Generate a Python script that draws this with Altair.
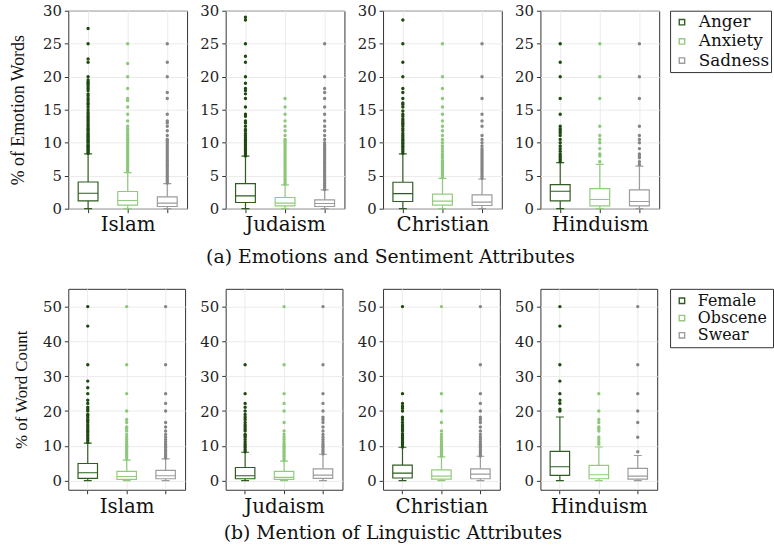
import altair as alt
import pandas as pd

religions = ["Islam", "Judaism", "Christian", "Hinduism"]

# ---------------- (a) emotion words ----------------
emotion_series = ["Anger", "Anxiety", "Sadness"]
# (whisker low, Q1, median, Q3, whisker high) for Islam, Judaism, Christian, Hinduism
anger_box = [(0, 1.18, 2.34, 4.04, 8.30), (0, 0.93, 1.93, 3.80, 7.96),
             (0, 1.09, 2.29, 4.00, 8.30), (0, 1.18, 2.64, 3.65, 6.97)]
anxiety_box = [(0, 0.53, 1.24, 2.60, 5.46), (0, 0.42, 0.83, 1.69, 3.60),
               (0, 0.53, 1.13, 2.19, 4.60), (0, 0.42, 1.39, 3.05, 6.70)]
sadness_box = [(0, 0.33, 0.83, 1.78, 3.80), (0, 0.33, 0.78, 1.33, 2.84),
               (0, 0.48, 0.98, 2.08, 4.50), (0, 0.42, 1.09, 2.84, 6.46)]

anger_out = [
    [8.4, 8.6, 8.8, 9.0, 9.2, 9.4, 9.5, 9.7, 10.0, 10.2, 10.3, 10.5, 10.7, 10.9, 11.1, 11.3,
     11.5, 11.8, 12.0, 12.2, 12.5, 12.7, 13.0, 13.3, 13.5, 13.8, 14.0, 14.3, 14.6, 15.0, 15.4,
     15.8, 16.0, 16.4, 16.7, 17.1, 17.4, 17.9, 18.2, 18.5, 18.8, 19.0, 19.2, 19.5, 20.0, 22.2,
     22.7, 25.0, 27.3],
    [8.0, 8.3, 8.6, 8.9, 9.1, 9.4, 9.7, 10.0, 10.3, 10.5, 10.8, 11.1, 11.4, 11.8, 12.0, 12.5,
     13.0, 13.3, 14.0, 14.3, 15.4, 16.7, 17.4, 17.9, 18.2, 19.0, 20.0, 22.2, 23.1, 25.0, 28.6, 29.0],
    [8.4, 8.7, 9.0, 9.3, 9.5, 9.8, 10.0, 10.3, 10.5, 10.8, 11.1, 11.4, 11.8, 12.1, 12.5, 12.8,
     13.0, 13.3, 13.6, 14.0, 14.3, 14.8, 15.4, 15.8, 16.0, 16.7, 17.6, 18.2, 20.0, 22.2, 25.0, 28.6],
    [7.1, 7.4, 7.7, 8.0, 8.3, 8.7, 9.1, 9.5, 10.0, 10.5, 11.1, 11.5, 11.8, 12.1, 12.5, 14.3,
     16.7, 20.0, 22.2, 25.0],
]
anxiety_out = [
    [5.6, 5.9, 6.2, 6.5, 6.7, 7.0, 7.3, 7.5, 7.7, 8.0, 8.3, 8.6, 8.9, 9.1, 9.4, 9.7, 10.0,
     10.3, 10.5, 10.8, 11.1, 11.4, 11.8, 12.1, 12.5, 13.3, 14.3, 15.4, 16.4, 16.7, 18.2, 20.0,
     22.0, 25.0],
    [3.7, 4.0, 4.3, 4.6, 4.9, 5.2, 5.5, 5.8, 6.1, 6.4, 6.7, 7.0, 7.3, 7.6, 7.9, 8.2, 8.5, 8.8,
     9.1, 9.4, 9.7, 10.0, 10.3, 10.5, 11.1, 11.8, 12.5, 13.3, 14.3, 15.4, 16.7],
    [4.7, 5.0, 5.3, 5.6, 5.9, 6.2, 6.5, 6.7, 7.0, 7.3, 7.7, 8.0, 8.3, 8.7, 9.1, 9.5, 10.0,
     10.5, 11.1, 11.8, 12.5, 13.3, 14.3, 15.4, 16.7, 18.2, 20.0, 25.0],
    [7.1, 8.0, 8.3, 9.1, 10.0, 10.5, 11.1, 12.5, 16.7, 20.0, 25.0],
]
sadness_out = [
    [3.9, 4.2, 4.5, 4.8, 5.0, 5.3, 5.6, 5.9, 6.2, 6.5, 6.7, 7.0, 7.3, 7.6, 7.9, 8.2, 8.5, 8.8,
     9.1, 9.4, 9.7, 10.0, 10.3, 10.5, 11.1, 11.8, 12.5, 13.0, 13.3, 14.3, 16.7, 17.6, 20.0,
     22.2, 25.0],
    [2.9, 3.2, 3.5, 3.8, 4.1, 4.4, 4.7, 5.0, 5.3, 5.6, 5.9, 6.2, 6.5, 6.8, 7.1, 7.4, 7.7, 8.0,
     8.3, 8.6, 8.9, 9.1, 9.4, 9.7, 10.0, 10.5, 11.1, 11.8, 12.5, 13.3, 14.3, 15.4, 16.7, 17.6,
     18.2, 20.0, 25.0],
    [4.6, 4.9, 5.2, 5.5, 5.8, 6.1, 6.4, 6.7, 7.0, 7.3, 7.6, 7.9, 8.2, 8.5, 8.8, 9.1, 9.5, 10.0,
     10.5, 11.1, 12.5, 13.3, 14.3, 16.7, 20.0, 25.0],
    [6.7, 7.1, 7.7, 8.0, 8.3, 9.1, 10.0, 10.5, 11.1, 12.5, 16.7, 20.0, 25.0],
]

# ---------------- (b) linguistic attributes ----------------
lingu_series = ["Female", "Obscene", "Swear"]
female_box = [(0, 0.68, 2.28, 4.95, 10.8), (0, 0.57, 1.42, 3.80, 8.17),
              (0, 0.77, 2.19, 4.47, 9.60), (0, 1.54, 4.00, 8.45, 18.3)]
obscene_box = [(0, 0.40, 1.20, 2.67, 5.90), (0, 0.40, 0.97, 2.67, 5.60),
               (0, 0.48, 1.34, 3.13, 6.84), (0, 0.57, 1.71, 4.38, 9.68)]
swear_box = [(0, 0.57, 1.42, 2.95, 6.27), (0, 0.68, 1.62, 3.42, 7.60),
             (0, 0.57, 1.91, 3.42, 7.03), (0, 0.48, 1.34, 3.53, 7.23)]

female_out = [
    [11.0, 11.6, 12.2, 12.8, 13.3, 13.9, 14.3, 14.8, 15.4, 16.0, 16.7, 17.2, 17.6, 18.2, 18.8,
     19.0, 20.0, 20.5, 21.1, 22.2, 23.1, 25.0, 26.7, 28.6, 33.3, 44.4, 50.0],
    [8.3, 8.9, 9.5, 10.0, 10.5, 11.1, 11.8, 12.5, 13.0, 13.3, 14.3, 14.8, 15.4, 16.0, 16.7,
     17.6, 18.2, 19.0, 20.0, 21.1, 22.2, 25.0, 33.3],
    [9.7, 10.3, 10.9, 11.4, 12.0, 12.5, 13.0, 13.5, 14.3, 14.8, 15.4, 16.0, 16.7, 17.6, 18.2,
     20.0, 20.8, 21.4, 22.2, 25.0, 50.0],
    [20.0, 20.5, 22.2, 23.1, 25.0, 28.6, 33.3, 44.4, 50.0],
]
obscene_out = [
    [6.2, 6.9, 7.5, 8.0, 8.6, 9.1, 9.7, 10.0, 10.5, 11.1, 11.8, 12.5, 13.3, 14.3, 15.0, 15.4,
     16.7, 17.6, 20.0, 25.0, 33.3, 50.0],
    [5.8, 6.3, 6.9, 7.4, 8.0, 8.5, 9.1, 9.5, 10.0, 10.5, 11.1, 11.8, 12.5, 13.3, 14.3, 16.7,
     20.0, 22.2, 25.0, 33.3, 50.0],
    [7.1, 7.7, 8.3, 8.7, 9.1, 9.5, 10.0, 10.5, 11.1, 11.8, 12.5, 13.3, 14.3, 16.7, 20.0, 25.0, 50.0],
    [10.5, 11.1, 11.8, 12.5, 14.3, 15.0, 15.4, 16.7, 17.6, 20.0, 25.0],
]
swear_out = [
    [6.5, 7.1, 7.7, 8.3, 8.9, 9.5, 10.0, 10.5, 11.1, 11.8, 12.5, 13.3, 14.3, 15.4, 16.7, 20.0,
     22.2, 25.0, 33.3, 50.0],
    [7.7, 8.3, 8.9, 9.5, 10.0, 10.5, 11.1, 11.8, 12.5, 13.3, 14.3, 15.4, 16.7, 17.6, 18.2, 20.0,
     22.2, 25.0, 33.3, 50.0],
    [7.1, 7.7, 8.3, 8.9, 9.5, 10.0, 10.5, 11.1, 11.8, 12.5, 13.3, 14.3, 15.4, 16.7, 17.6, 18.2,
     20.0, 22.2, 25.0, 33.3, 50.0],
    [8.3, 12.5, 16.7, 20.0, 25.0, 33.3, 50.0],
]

box_strokes = ["#2f5d20", "#92cb7e", "#9c9c9c"]
point_fills = ["#1e4a10", "#8cc878", "#858585"]

SERIF = "DejaVu Serif"
TIMES = "Liberation Serif"


def frames(series, boxes, outliers):
    box_rows, pt_rows = [], []
    for s, stats, outs in zip(series, boxes, outliers):
        for rel, (lo, q1, med, q3, hi), pts in zip(religions, stats, outs):
            box_rows.append(dict(religion=rel, series=s, lo=lo, q1=q1, med=med, q3=q3, hi=hi))
            pt_rows.extend(dict(religion=rel, series=s, kind=s, value=v) for v in pts)
    return pd.DataFrame(box_rows), pd.DataFrame(pt_rows)


def stroke_enc(series):
    return alt.Stroke("series:N", scale=alt.Scale(domain=series, range=box_strokes), legend=None)


def panel(rel, series, box_df, pt_df, y_dom, y_ticks, w, h, y_title, y_title_pad, y_title_size):
    x = alt.X("series:N", scale=alt.Scale(domain=series, paddingInner=0.5, paddingOuter=0.25),
              axis=alt.Axis(title=rel, labels=False, ticks=True, tickSize=4, domain=False,
                            grid=True, bandPosition=0.5, titlePadding=2, titleFont=SERIF,
                            titleFontSize=20, titleFontWeight="normal", titleColor="#111"))
    ysc = alt.Scale(domain=y_dom, nice=False, zero=False)
    yax = alt.Axis(values=y_ticks, tickSize=4, domain=False, grid=True, labelPadding=3,
                   labelOverlap=False, minExtent=28, maxExtent=28,
                   title=y_title, titlePadding=y_title_pad, titleFont=TIMES,
                   titleFontSize=y_title_size, titleFontWeight="normal", titleColor="#111")

    def Y(field):
        return alt.Y(field, type="quantitative", scale=ysc, axis=yax)

    stroke = stroke_enc(series)
    fill = alt.Fill("kind:N", scale=alt.Scale(domain=series, range=point_fills), legend=None)

    b = alt.Chart(box_df[box_df.religion == rel])
    p = alt.Chart(pt_df[pt_df.religion == rel])
    line = dict(filled=False, strokeWidth=1.2)
    whisk_lo = b.mark_rule(strokeWidth=1.2).encode(x=x, y=Y("lo"), y2="q1:Q", stroke=stroke)
    whisk_hi = b.mark_rule(strokeWidth=1.2).encode(x=x, y=Y("q3"), y2="hi:Q", stroke=stroke)
    body_fill = b.mark_bar(fill="white").encode(x=x, y=Y("q1"), y2="q3:Q")
    body = b.mark_bar(**line).encode(x=x, y=Y("q1"), y2="q3:Q", stroke=stroke)
    median = b.mark_bar(**line).encode(x=x, y=Y("med"), y2="med:Q", stroke=stroke)
    cap_hi = b.mark_bar(size=8, **line).encode(x=x, y=Y("hi"), y2="hi:Q", stroke=stroke)
    cap_lo = b.mark_bar(size=8, **line).encode(x=x, y=Y("lo"), y2="lo:Q", stroke=stroke)
    pts = p.mark_circle(size=12, opacity=1).encode(x=x, y=Y("value"), fill=fill)
    return alt.layer(whisk_lo, whisk_hi, body_fill, body, median, cap_hi, cap_lo, pts).properties(
        width=w, height=h)


def key_box(series, w, h, row_padding, font_size, sym_x, text_x):
    """Boxed key: an outlined square in each series colour followed by its name."""
    base = alt.Chart(pd.DataFrame({"series": series})).encode(
        y=alt.Y("series:N", scale=alt.Scale(type="point", domain=series, padding=row_padding),
                axis=None))
    swatch = base.mark_point(shape="square", filled=False, size=30, strokeWidth=1.4, opacity=1).encode(
        x=alt.value(sym_x), stroke=stroke_enc(series))
    names = base.mark_text(align="left", baseline="middle", font=SERIF, fontSize=font_size,
                           color="#111").encode(x=alt.value(text_x), text="series:N")
    return alt.layer(swatch, names).properties(width=w, height=h)


emo_boxes, emo_points = frames(emotion_series, [anger_box, anxiety_box, sadness_box],
                               [anger_out, anxiety_out, sadness_out])
lin_boxes, lin_points = frames(lingu_series, [female_box, obscene_box, swear_box],
                               [female_out, obscene_out, swear_out])

top_panels = [
    panel(r, emotion_series, emo_boxes, emo_points, [0, 30], [0, 5, 10, 15, 20, 25, 30], 120, 200,
          "% of Emotion Words" if i == 0 else None, 13, 18)
    for i, r in enumerate(religions)
]
top_panels.append(key_box(emotion_series, 102, 62, 0.6, 17, 12, 29))

bottom_panels = [
    panel(r, lingu_series, lin_boxes, lin_points, [-2.6, 55.1], [0, 10, 20, 30, 40, 50], 118, 203,
          "% of Word Count" if i == 0 else None, 10, 17)
    for i, r in enumerate(religions)
]
bottom_panels.append(key_box(lingu_series, 104, 59, 0.69, 16, 12, 28))

caption_kw = dict(orient="bottom", anchor="middle", font=SERIF, fontSize=19, fontWeight="normal",
                  color="#111")
top = alt.hconcat(*top_panels, spacing=9,
                  title=alt.TitleParams("(a) Emotions and Sentiment Attributes", offset=13, **caption_kw))
bottom = alt.hconcat(*bottom_panels, spacing=11,
                     title=alt.TitleParams("(b) Mention of Linguistic Attributes", offset=8, **caption_kw))

chart = (
    alt.vconcat(top, bottom, spacing=21)
    .resolve_scale(stroke="independent", fill="independent")
    .properties(padding={"left": 9, "top": 0, "right": 0, "bottom": 0}, background="white")
    .configure_view(stroke="#333", strokeWidth=1)
    .configure_axis(labelFont=SERIF, labelFontSize=15, labelColor="#222", tickColor="#333",
                    gridColor="#ebebeb", gridWidth=1)
)

chart.save("out.html", embed_options={"renderer": "svg", "actions": False})
